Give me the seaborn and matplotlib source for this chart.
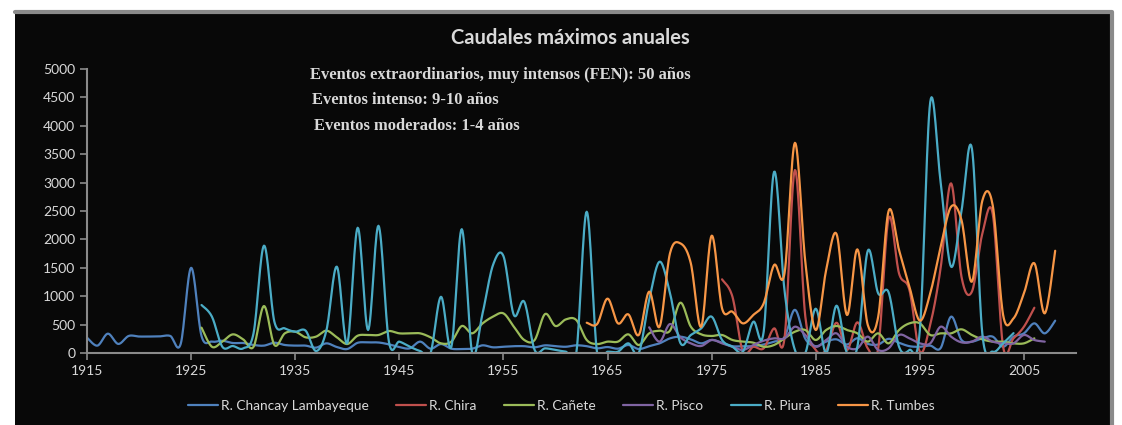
import numpy as np
import pandas as pd
import matplotlib
matplotlib.use("Agg")
import matplotlib.pyplot as plt
from matplotlib.patches import Rectangle
from matplotlib.lines import Line2D
import seaborn as sns

# --- DATOS ---
anios_chancay = list(range(1915, 2009))
chancay = [270, 130, 340, 160, 300, 290, 290, 293, 300, 160,
           1500, 300, 200, 216, 176, 176, 141, 130, 181, 141,
           130, 130, 94, 170, 105, 70, 180, 185, 185, 152,
           105, 82, 200, 76, 158, 76, 70, 76, 135, 100,
           110, 120, 120, 100, 135, 120, 110, 135, 120, 82,
           105, 76, 141, 70, 120, 170, 258, 287, 240, 170,
           230, 182, 120, 120, 120, 150, 200, 280, 760, 250,
           120, 200, 240, 150, 260, 160, 150, 250, 180, 120,
           110, 130, 88, 640, 229, 200, 258, 288, 110, 288,
           346, 522, 346, 569]

anios_chira = list(range(1976, 2007))
chira = [1297, 990, 23, 110, 82, 434, 258, 3221, 640, 53,
         53, 533, 53, 540, 82, 82, 2370, 1402, 1109, 23,
         500, 1500, 2987, 1343, 1080, 2100, 2450, 110, 258, 463,
         797]

anios_canete = list(range(1926, 2007))
canete = [446, 110, 200, 328, 240, 110, 827, 141, 346, 375,
          276, 288, 393, 276, 158, 305, 317, 317, 387, 346,
          346, 346, 276, 170, 200, 475, 346, 522, 640, 698,
          463, 229, 229, 686, 475, 592, 581, 229, 158, 200,
          200, 328, 141, 346, 393, 393, 886, 463, 328, 300,
          317, 229, 200, 182, 110, 141, 258, 375, 405, 229,
          405, 475, 405, 346, 200, 346, 170, 405, 522, 522,
          317, 346, 346, 417, 317, 240, 200, 200, 170, 170,
          258]

anios_pisco = list(range(1969, 2008))
pisco = [452, 200, 510, 276, 170, 123, 229, 170, 110, 53,
         141, 217, 258, 258, 463, 317, 110, 229, 346, 110,
         82, 288, 53, 82, 317, 258, 170, 170, 463, 288,
         187, 200, 288, 200, 170, 170, 317, 229, 200]

anios_piura = list(range(1926, 2005))
piura = [845, 640, 110, 123, 82, 350, 1890, 550, 434, 375,
         393, 35, 400, 1520, 170, 2205, 405, 2240, 200, 200,
         110, 35, 0, 990, 110, 2180, 0, 700, 1550, 1707,
         670, 903, 53, 82, 53, 23, 0, 2487, 0, 23,
         23, 170, 0, 933, 1607, 1055, 176, 317, 434, 640,
         229, 110, 23, 550, 375, 3190, 1100, 53, 0, 780,
         0, 833, 0, 110, 1800, 1050, 1068, 110, 53, 405,
         4420, 3000, 1520, 2500, 3600, 346, 23, 170, 350]

anios_tumbes = list(range(1963, 2009))
tumbes = [533, 510, 957, 522, 680, 317, 1080, 463, 1755, 1930,
          1580, 463, 2065, 786, 727, 522, 669, 874, 1549, 1402,
          3700, 1600, 405, 1461, 2094, 669, 1825, 493, 640, 2500,
          1813, 1167, 570, 1050, 1871, 2575, 2341, 1255, 2680, 2600,
          669, 610, 1050, 1580, 698, 1800]

series = [
    ("R. Chancay Lambayeque", anios_chancay, chancay, "#4F81BD"),
    ("R. Chira", anios_chira, chira, "#C0504D"),
    ("R. Cañete", anios_canete, canete, "#9BBB59"),
    ("R. Pisco", anios_pisco, pisco, "#8064A2"),
    ("R. Piura", anios_piura, piura, "#4BACC6"),
    ("R. Tumbes", anios_tumbes, tumbes, "#F79646"),
]

ticks_x = [1915, 1925, 1935, 1945, 1955, 1965, 1975, 1985, 1995, 2005]
ticks_y = list(range(0, 5001, 500))

TXT = "#d9d9d9"
FONDO = "#080808"
GRIS = "#8a8a8a"


def suavizar(x, y, n=16):
    """Linea suavizada tipo Excel (Bezier con tangentes Catmull-Rom)"""
    x = np.asarray(x, float)
    y = np.asarray(y, float)
    xs, ys = [x[0]], [y[0]]
    t = np.linspace(0, 1, n + 1)[1:]
    for i in range(len(x) - 1):
        p0 = np.array([x[max(i - 1, 0)], y[max(i - 1, 0)]])
        p1 = np.array([x[i], y[i]])
        p2 = np.array([x[i + 1], y[i + 1]])
        p3 = np.array([x[min(i + 2, len(x) - 1)], y[min(i + 2, len(x) - 1)]])
        c1 = p1 + (p2 - p0) / 6
        c2 = p2 - (p3 - p1) / 6
        b = (((1 - t) ** 3)[:, None] * p1 + (3 * (1 - t) ** 2 * t)[:, None] * c1
             + (3 * (1 - t) * t ** 2)[:, None] * c2 + (t ** 3)[:, None] * p2)
        xs.extend(b[:, 0])
        ys.extend(b[:, 1])
    return np.array(xs), np.array(ys)


def graficar():
    sns.set_theme(style="ticks")
    plt.rcParams['font.family'] = ['Lato', 'DejaVu Sans']

    fig = plt.figure(figsize=(11.22, 4.25), dpi=100, facecolor="white")
    # panel negro del grafico, con borde gris solo arriba y a la derecha
    x0, x1, ytop = 15 / 1122, 1112 / 1122, 1 - 12 / 425
    fig.patches.append(Rectangle((x0, -0.05), x1 - x0, ytop + 0.05,
                                 transform=fig.transFigure, facecolor=FONDO,
                                 edgecolor="none", zorder=-5))
    fig.lines.append(Line2D([x0, x1, x1], [ytop, ytop, 0], transform=fig.transFigure,
                            color=GRIS, linewidth=3, zorder=-4))

    ax = fig.add_axes([87 / 1122, 72 / 425, (1076 - 87) / 1122, (353 - 69) / 425])
    ax.set_zorder(2)
    ax.patch.set_alpha(0)

    for nombre, anios, valores, color in series:
        xs, ys = suavizar(anios, valores)
        sns.lineplot(x=xs, y=ys, ax=ax, color=color, linewidth=1.6,
                     label=nombre, estimator=None, sort=False)

    ax.set_xlim(1915, 2010)
    ax.set_ylim(0, 5000)
    ax.set_xticks(ticks_x)
    ax.set_yticks(ticks_y)
    ax.tick_params(colors=GRIS, labelcolor=TXT, labelsize=10,
                   length=5, width=1.2, direction="out")
    for s in ["top", "right"]:
        ax.spines[s].set_visible(False)
    for s in ["left", "bottom"]:
        ax.spines[s].set_color(GRIS)
        ax.spines[s].set_linewidth(1.5)
    ax.set_xlabel("")
    ax.set_ylabel("")

    ax.get_legend().remove()
    h, l = ax.get_legend_handles_labels()
    leg = fig.legend(h, l, loc="center", bbox_to_anchor=(0.5, 1 - 406 / 425),
                     ncol=6, frameon=False, fontsize=9.9, handlelength=2.2,
                     columnspacing=2.0, handletextpad=0.2)
    for t in leg.get_texts():
        t.set_color(TXT)

    fig.text(570 / 1122, 1 - 38 / 425, "Caudales máximos anuales",
             ha="center", va="center", color=TXT, fontsize=14.5, fontweight="bold")

    notas = [("Eventos extraordinarios, muy intensos (FEN): 50 años", 310, 75),
             ("Eventos intenso: 9-10 años", 312, 100),
             ("Eventos moderados: 1-4 años", 314, 126)]
    for texto, px, py in notas:
        fig.text(px / 1122, 1 - py / 425, texto, ha="left", va="center",
                 color=TXT, fontsize=11.9, fontweight="bold",
                 family=["Liberation Serif", "DejaVu Serif"])

    plt.savefig("out.png", dpi=100, facecolor="white")
    plt.close()


if __name__ == "__main__":
    graficar()
